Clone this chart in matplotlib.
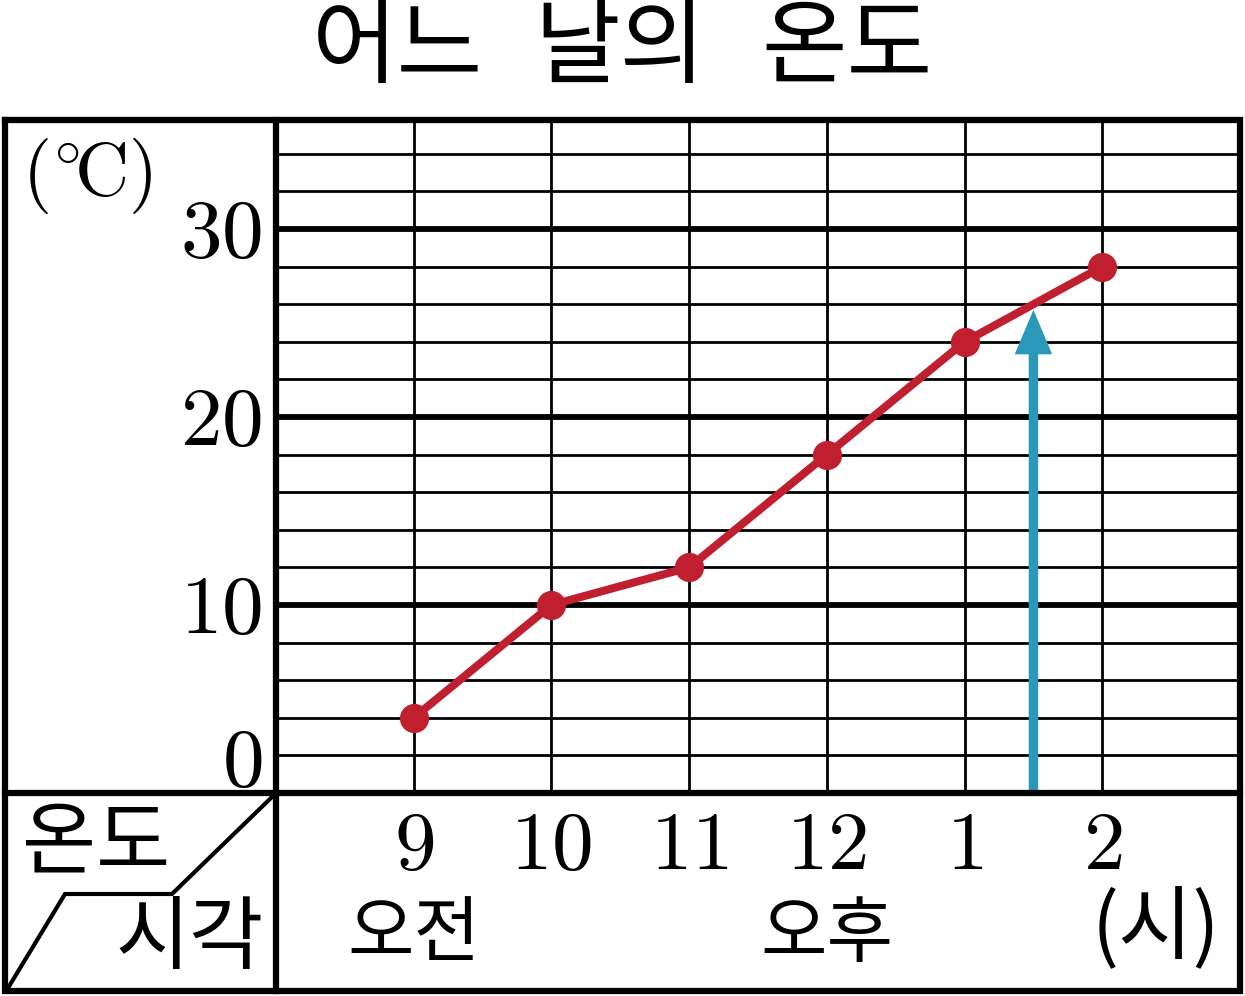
import matplotlib
matplotlib.use("Agg")
import matplotlib.pyplot as plt
from matplotlib.patches import FancyArrowPatch
import matplotlib.transforms as mtransforms

plt.rcParams['mathtext.fontset'] = 'cm'
KR = ['Noto Sans CJK KR', 'DejaVu Sans']

# ---- data ----
title_words = ["어느", "날의", "온도"]
hours = ["9", "10", "11", "12", "1", "2"]
temps = [4, 10, 12, 18, 24, 28]
y_tick_values = [0, 10, 20, 30]
y_unit = r'$(^{\circ}\!\mathrm{C})$'
period_labels = ["오전", "오후"]
period_at = [0, 3]          # index of hour under which label sits
x_unit = "(시)"
corner_top = "온도"
corner_bottom = "시각"
arrow_x = 4.5               # halfway between 1 and 2 o'clock
arrow_top = 25.7

W, H = 1245, 996
fig = plt.figure(figsize=(W / 100, H / 100), dpi=100)

# layout in pixels
L, R, T, B = 5, 1240, 120, 991
XD = 276      # vertical divider
YD = 793      # horizontal divider

ax = fig.add_axes([XD / W, (H - YD) / H, (R - XD) / W, (YD - T) / H])
ax.set_xlim(-1, len(hours))
ax.set_ylim(0, 35.8)
for s in ax.spines.values():
    s.set_visible(False)
ax.set_xticks([])
ax.set_yticks([])

# grid
for v in range(2, 36, 2):
    major = (v % 10 == 0)
    ax.axhline(v, color='black', lw=4.2 if major else 2.0, zorder=1)
for i in range(len(hours)):
    ax.axvline(i, color='black', lw=2.0, zorder=1)

# arrow
arr = FancyArrowPatch((arrow_x, 0), (arrow_x, arrow_top),
                      arrowstyle='simple,head_length=32,head_width=27,tail_width=6.8',
                      mutation_scale=1, color='#2B97B9', lw=0, zorder=2,
                      shrinkA=0, shrinkB=0)
ax.add_patch(arr)

# data line
xs = list(range(len(hours)))
ax.plot(xs, temps, color='#C01F2F', lw=5.8, marker='o', markersize=20,
        solid_capstyle='round', zorder=3, clip_on=False)

# overlay for frame
ov = fig.add_axes([0, 0, 1, 1])
ov.set_xlim(0, W)
ov.set_ylim(H, 0)
ov.axis('off')
fl = 4.5
ov.plot([L, R, R, L, L], [T, T, B, B, T], color='black', lw=fl, solid_joinstyle='miter')
ov.plot([XD, XD], [T, B], color='black', lw=fl)
ov.plot([L, R], [YD, YD], color='black', lw=fl)
# corner divider
ov.plot([XD - 4, 172, 65, 8], [YD + 4, 894, 894, B - 3], color='black', lw=3.0,
        solid_joinstyle='miter')

# title
for wx, w in zip([397, 620, 847], title_words):
    ov.text(wx, 49, w, fontsize=67, family=KR, ha='center', va='center')

# y labels
ytrans = mtransforms.blended_transform_factory(ov.transData, ax.transData)
for v in y_tick_values:
    up_px = 31 if v == 0 else -4
    t = mtransforms.offset_copy(ytrans, fig=fig, x=0, y=up_px * 0.72, units='points')
    ax.text(262, v, r'$%d$' % v, fontsize=60, ha='right', va='center', transform=t)

ov.text(87, 176, y_unit, fontsize=54, ha='center', va='center')

# x labels
xtrans = mtransforms.blended_transform_factory(ax.transData, ov.transData)
for i, h in enumerate(hours):
    ax.text(i, 845, r'$%s$' % h, fontsize=60, ha='center', va='center', transform=xtrans)
for i, p in zip(period_at, period_labels):
    ax.text(i, 935, p, fontsize=52, family=KR, ha='center', va='center', transform=xtrans)
ov.text(1156, 930, x_unit, fontsize=58, family=KR, ha='center', va='center')

ov.text(96, 844, corner_top, fontsize=58, family=KR, ha='center', va='center')
ov.text(190, 940, corner_bottom, fontsize=58, family=KR, ha='center', va='center')

fig.savefig('out.png', dpi=100)
